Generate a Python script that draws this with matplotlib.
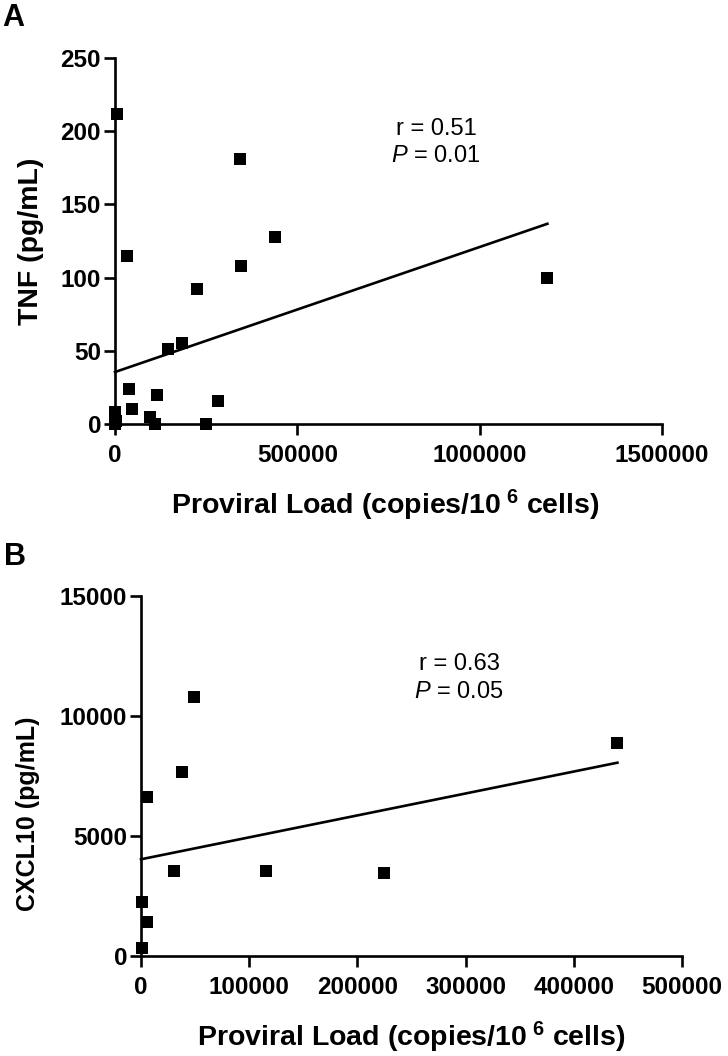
import matplotlib
matplotlib.use("Agg")
import matplotlib.pyplot as plt
import numpy as np

plt.rcParams['font.family'] = ['Liberation Sans', 'DejaVu Sans']
plt.rcParams['mathtext.fontset'] = 'custom'
plt.rcParams['mathtext.rm'] = 'Liberation Sans'
plt.rcParams['mathtext.bf'] = 'Liberation Sans:bold'
plt.rcParams['mathtext.it'] = 'Liberation Sans:italic'

# ---- Panel A data: TNF vs proviral load ----
tnf_load = [0, 2000, 1000, 6000, 32000, 343000, 438800, 345600, 224000, 144500,
            183000, 38400, 47500, 114000, 283000, 96000, 109700, 249600, 1185700]
tnf_value = [0, 2, 8, 212, 115, 181, 128, 108, 92, 51,
             55, 24, 10.5, 20, 15.5, 4.5, 0, 0, 100]
tnf_fit_intercept = 35.5
tnf_fit_slope = 8.54e-5
tnf_r_text = "r = 0.51"
tnf_p_value = "0.01"

# ---- Panel B data: CXCL10 vs proviral load ----
cxcl_load = [49000, 37600, 6000, 30500, 115500, 600, 6000, 600, 224900, 440300]
cxcl_value = [10780, 7680, 6640, 3540, 3540, 2260, 1400, 350, 3450, 8860]
cxcl_fit_intercept = 4030
cxcl_fit_slope = 9.14e-3
cxcl_r_text = "r = 0.63"
cxcl_p_value = "0.05"

xticks_a = [0, 500000, 1000000, 1500000]
yticks_a = [0, 50, 100, 150, 200, 250]
xticks_b = [0, 100000, 200000, 300000, 400000, 500000]
yticks_b = [0, 5000, 10000, 15000]

W, H = 728, 1056
fig = plt.figure(figsize=(W / 100, H / 100), dpi=100)


def px_axes(left, top, right, bottom):
    return fig.add_axes([left / W, 1 - bottom / H, (right - left) / W, (bottom - top) / H])


def style(ax, xticks, yticks, xlim, ylim):
    ax.set_xlim(*xlim)
    ax.set_ylim(*ylim)
    ax.set_xticks(xticks)
    ax.set_yticks(yticks)
    ax.set_xticklabels([str(t) for t in xticks])
    ax.set_yticklabels([str(t) for t in yticks])
    for s in ['top', 'right']:
        ax.spines[s].set_visible(False)
    for s in ['left', 'bottom']:
        ax.spines[s].set_linewidth(1.9)
        ax.spines[s].set_capstyle('projecting')
    ax.tick_params(axis='both', direction='out', length=8, width=1.9, labelsize=17.5)
    ax.tick_params(axis='x', pad=6.5)
    ax.tick_params(axis='y', pad=2)
    for lab in ax.get_xticklabels() + ax.get_yticklabels():
        lab.set_fontweight('bold')


xlabel = r"Proviral Load (copies/10$^{\mathbf{\ 6}}$ cells)"
xlabel_size = 20.5

# Panel A
axA = px_axes(115, 58, 662, 424)
style(axA, xticks_a, yticks_a, (0, 1500000), (0, 250))
axA.scatter(tnf_load, tnf_value, marker='s', s=64, color='black', clip_on=False, zorder=3,
            linewidths=0)
xa = np.array([0, max(tnf_load)])
axA.plot(xa, tnf_fit_intercept + tnf_fit_slope * xa, color='black', lw=1.9,
         clip_on=False, zorder=2)
axA.set_xlabel(xlabel, fontsize=xlabel_size, fontweight='bold', va='top')
axA.xaxis.set_label_coords(0.494, -0.175)
axA.set_ylabel("TNF (pg/mL)", fontsize=20.5, fontweight='bold', va='center')
axA.yaxis.set_label_coords(-0.153, 0.5)
axA.text(0.587, 0.807, tnf_r_text, transform=axA.transAxes, ha='center', va='center',
         fontsize=17)
axA.text(0.587, 0.731, r"$\it{P}$ = " + tnf_p_value, transform=axA.transAxes,
         ha='center', va='center', fontsize=17)

# Panel B
axB = px_axes(141, 596, 682, 956)
style(axB, xticks_b, yticks_b, (0, 500000), (0, 15000))
axB.scatter(cxcl_load, cxcl_value, marker='s', s=64, color='black', clip_on=False, zorder=3,
            linewidths=0)
xb = np.array([0, max(cxcl_load)])
axB.plot(xb, cxcl_fit_intercept + cxcl_fit_slope * xb, color='black', lw=1.9,
         clip_on=False, zorder=2)
axB.set_xlabel(xlabel, fontsize=xlabel_size, fontweight='bold', va='top')
axB.xaxis.set_label_coords(0.5, -0.178)
axB.set_ylabel("CXCL10 (pg/mL)", fontsize=18, fontweight='bold', va='center')
axB.yaxis.set_label_coords(-0.208, 0.394)
axB.text(0.588, 0.811, cxcl_r_text, transform=axB.transAxes, ha='center', va='center',
         fontsize=17)
axB.text(0.588, 0.732, r"$\it{P}$ = " + cxcl_p_value, transform=axB.transAxes,
         ha='center', va='center', fontsize=17)

fig.text(2 / W, 1 - 18.5 / H, "A", fontsize=22, fontweight='bold', va='center', ha='left')
fig.text(4 / W, 1 - 557 / H, "B", fontsize=22, fontweight='bold', va='center', ha='left')

fig.savefig("out.png", dpi=100)
